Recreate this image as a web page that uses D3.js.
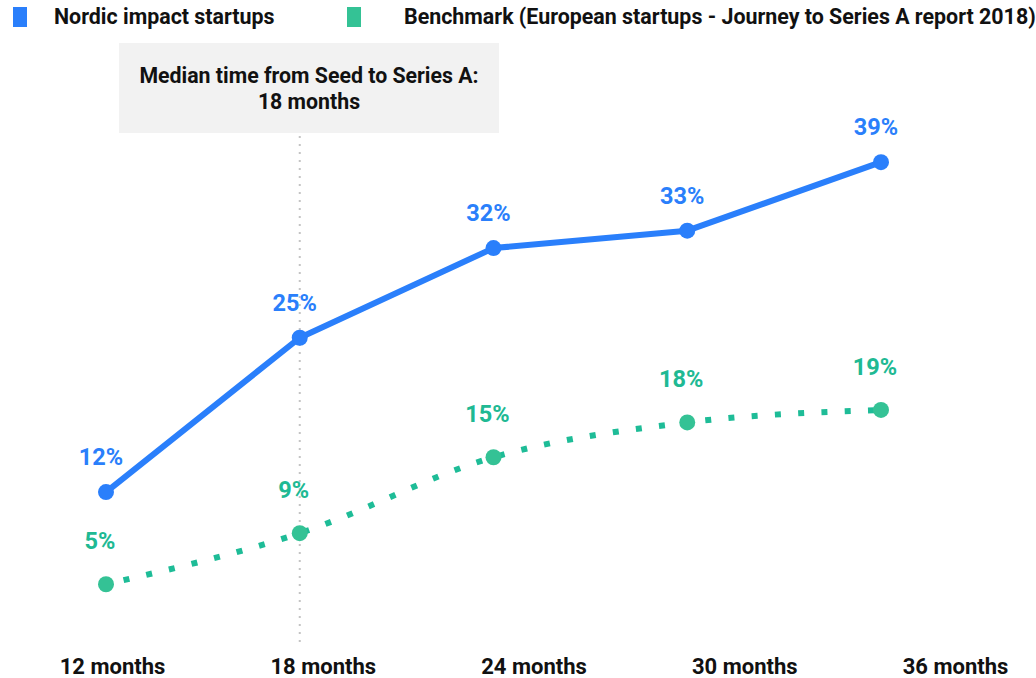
<!DOCTYPE html>
<html>
<head>
<meta charset="utf-8">
<script src="https://cdn.jsdelivr.net/npm/d3@7"></script>
<style>
  html, body { margin: 0; padding: 0; background: #fff; }
  svg { display: block; font-family: Roboto, "Noto Sans", sans-serif; }
</style>
</head>
<body>
<svg id="chart" width="1036" height="678"></svg>
<script>
// ---- data ----
const categories = ["12 months", "18 months", "24 months", "30 months", "36 months"];
const nordicValues = [12.4, 24.8, 32.0, 33.4, 38.9];
const benchmarkValues = [5.0, 9.1, 15.2, 18.0, 19.0];
const seriesNames = ["Nordic impact startups", "Benchmark (European startups - Journey to Series A report 2018)"];
const annotationLines = ["Median time from Seed to Series A:", "18 months"];
const medianCategory = "18 months";

// ---- styles ----
const BLUE = "#2a7ffb";
const GREEN_MARK = "#34c295";
const GREEN_LINE = "#1ebc97";
const GREEN_TEXT = "#20b993";

const svg = d3.select("#chart");

const x = d3.scalePoint().domain(categories).range([106, 881]);
const xLabel = d3.scalePoint().domain(categories).range([112, 955]);
const y = d3.scaleLinear().domain([0, 40]).range([646.5, 148.5]);

// ---- legend ----
const legend = svg.append("g");
legend.append("rect").attr("x", 13).attr("y", 7).attr("width", 14).attr("height", 20).attr("fill", BLUE);
legend.append("text").attr("x", 54).attr("y", 24).text(seriesNames[0])
  .attr("font-size", 21.4).attr("font-weight", 700).attr("fill", "#111");
legend.append("rect").attr("x", 347).attr("y", 7).attr("width", 14).attr("height", 20).attr("fill", GREEN_MARK);
legend.append("text").attr("x", 404).attr("y", 24).text(seriesNames[1])
  .attr("font-size", 21.4).attr("font-weight", 700).attr("fill", "#111");

// ---- median reference line ----
svg.append("line")
  .attr("x1", x(medianCategory)).attr("x2", x(medianCategory))
  .attr("y1", 136).attr("y2", y(0))
  .attr("stroke", "#c4c4c4").attr("stroke-width", 2).attr("stroke-dasharray", "2,6");

// ---- annotation box ----
const ann = svg.append("g");
ann.append("rect").attr("x", 119).attr("y", 43).attr("width", 380).attr("height", 90).attr("fill", "#f2f2f2");
ann.selectAll("text").data(annotationLines).join("text")
  .attr("x", 309).attr("y", (d, i) => 83 + i * 26)
  .attr("text-anchor", "middle")
  .attr("font-size", 21.3).attr("font-weight", 700).attr("fill", "#111")
  .text(d => d);

// ---- benchmark (dotted, smooth) ----
const greenLine = d3.line().x((d, i) => x(categories[i])).y(d => y(d)).curve(d3.curveMonotoneX);
svg.append("path").datum(benchmarkValues)
  .attr("d", greenLine)
  .attr("fill", "none").attr("stroke", GREEN_LINE).attr("stroke-width", 6)
  .attr("stroke-dasharray", "6,17.3").attr("stroke-dashoffset", -18);
svg.append("g").selectAll("circle").data(benchmarkValues).join("circle")
  .attr("cx", (d, i) => x(categories[i])).attr("cy", d => y(d)).attr("r", 8).attr("fill", GREEN_MARK);
svg.append("g").selectAll("text").data(benchmarkValues).join("text")
  .attr("x", (d, i) => x(categories[i]) - 6).attr("y", d => y(d) - 35)
  .attr("text-anchor", "middle").attr("font-size", 23.5).attr("font-weight", 700).attr("fill", GREEN_TEXT)
  .text(d => Math.round(d) + "%");

// ---- nordic (solid) ----
const blueLine = d3.line().x((d, i) => x(categories[i])).y(d => y(d));
svg.append("path").datum(nordicValues)
  .attr("d", blueLine)
  .attr("fill", "none").attr("stroke", BLUE).attr("stroke-width", 6).attr("stroke-linejoin", "round");
svg.append("g").selectAll("circle").data(nordicValues).join("circle")
  .attr("cx", (d, i) => x(categories[i])).attr("cy", d => y(d)).attr("r", 8).attr("fill", BLUE);
svg.append("g").selectAll("text").data(nordicValues).join("text")
  .attr("x", (d, i) => x(categories[i]) - 5).attr("y", d => y(d) - 27)
  .attr("text-anchor", "middle").attr("font-size", 23.5).attr("font-weight", 700).attr("fill", BLUE)
  .text(d => Math.round(d) + "%");

// ---- x axis labels ----
const xAxis = d3.axisBottom(xLabel).tickSize(0).tickPadding(0);
const gx = svg.append("g").attr("transform", "translate(0,658)").call(xAxis);
gx.select(".domain").remove();
gx.selectAll("text")
  .attr("dy", "0.71em")
  .attr("font-family", "Roboto, 'Noto Sans', sans-serif")
  .attr("font-size", 22).attr("font-weight", 700).attr("fill", "#111");
</script>
</body>
</html>
